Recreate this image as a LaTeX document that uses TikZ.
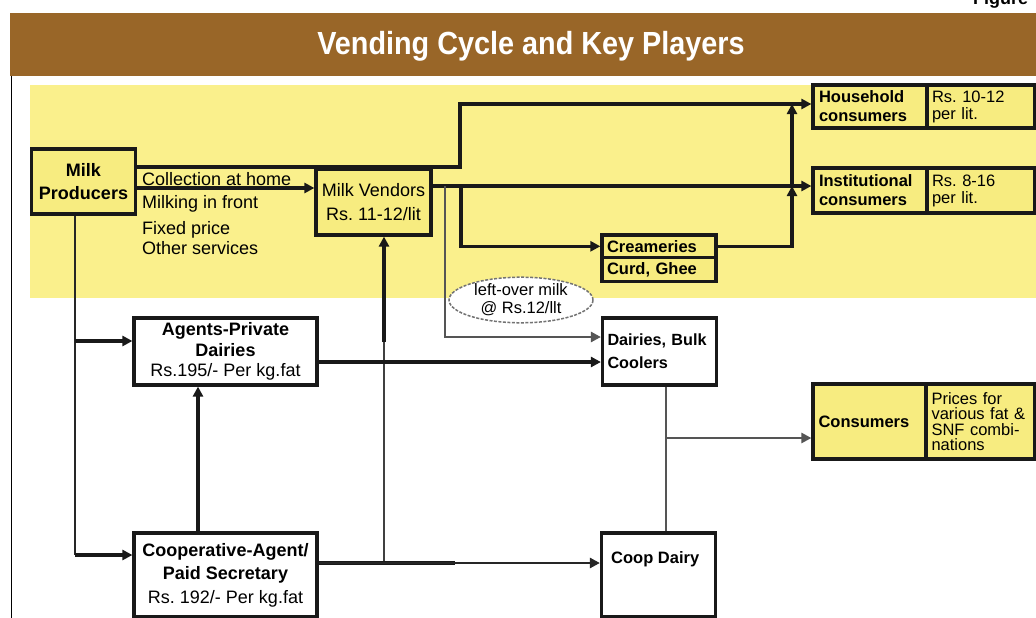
\documentclass[tikz,border=0pt]{standalone}
\usepackage{fontspec}
\setmainfont{Liberation Sans}
\usetikzlibrary{arrows.meta,shapes.geometric}
\definecolor{titlebrown}{HTML}{996628}
\definecolor{bandyellow}{HTML}{FAF08C}
\definecolor{boxyellow}{HTML}{F7EC80}
\definecolor{lineg}{HTML}{555555}
\newcommand{\fL}{\fontsize{18}{23}\selectfont}
\newcommand{\fR}{\fontsize{16.5}{19}\selectfont}
\frenchspacing
\tikzset{
  boxn/.style={draw=black!90, line width=3.2pt, inner sep=0pt},
  ybox/.style={boxn, fill=boxyellow},
  wbox/.style={boxn, fill=white},
  conn/.style={line width=3.2pt, draw=black!90},
  tipend/.style={-{Triangle[length=10pt,width=10pt]}},
  arr/.style={conn, tipend},
  thinl/.style={line width=2.6pt, draw=lineg},
  thinarr/.style={thinl, tipend},
}
\begin{document}
\begin{tikzpicture}[x=1pt,y=-1pt]
\useasboundingbox (0,0) rectangle (1036,618);
% background
\fill[white] (0,0) rectangle (1036,618);
\fill[bandyellow] (30,85) rectangle (1036,298);
\fill[titlebrown] (10,13) rectangle (1036,76);
\draw[line width=1pt] (11,76) -- (11,618);
\node[font=\fontsize{32}{36}\selectfont\bfseries, text=white, anchor=base] (title) at (531,55) {\scalebox{0.9}[1]{Vending Cycle and Key Players}};
\node[font=\fL\bfseries, anchor=base west, inner sep=0pt] (fig) at (973,5) {Figure};

% nodes
\node[ybox, minimum width=104pt, minimum height=65pt, font=\fL\bfseries, align=center] (prod) at (83.5,181.5) {Milk\\Producers};
\node[ybox, minimum width=115pt, minimum height=66pt, font=\fontsize{18}{23.5}\selectfont, align=center] (vend) at (373.5,202) {Milk Vendors\\Rs. 11-12/lit};
\node[font=\fL, anchor=base west, inner sep=0pt, align=left] (lab1) at (142,185) {Collection at home};
\node[font=\fL, anchor=base west, inner sep=0pt] (lab2) at (142,208) {Milking in front};
\node[font=\fL, anchor=base west, inner sep=0pt] (lab3) at (142,234) {Fixed price};
\node[font=\fL, anchor=base west, inner sep=0pt] (lab4) at (142,254) {Other services};

\node[ybox, minimum width=114pt, minimum height=43pt, font=\fR\bfseries, text width=102pt, align=left] (house) at (870,106.5) {Household\\consumers};
\node[ybox, minimum width=108pt, minimum height=43pt, font=\fontsize{16.5}{17}\selectfont, text width=98pt, align=left] (houseP) at (981,106.5) {Rs. 10-12\\per lit.};
\node[ybox, minimum width=114pt, minimum height=45pt, font=\fR\bfseries, text width=102pt, align=left] (inst) at (870,190.5) {Institutional\\consumers};
\node[ybox, minimum width=108pt, minimum height=45pt, font=\fontsize{16.5}{17}\selectfont, text width=98pt, align=left] (instP) at (981,190.5) {Rs. 8-16\\per lit.};

\node[ybox, minimum width=114pt, minimum height=22.5pt, font=\fR\bfseries, text width=104pt, align=left] (cream) at (659,246.3) {Creameries};
\node[ybox, minimum width=114pt, minimum height=24pt, font=\fR\bfseries, text width=104pt, align=left] (curd) at (659,269.5) {Curd, Ghee};

\node[ellipse, draw=black!55, dash pattern=on 3pt off 1.5pt, line width=1.5pt, fill=white, minimum width=144pt, minimum height=44pt, inner sep=0pt, font=\fontsize{16.5}{18}\selectfont, align=center] (left) at (521,300) {left-over milk\\@ Rs.12/llt};

\node[wbox, minimum width=114pt, minimum height=67pt, font=\fontsize{16.2}{23}\selectfont\bfseries, text width=104pt, align=left] (dbulk) at (659.5,351.5) {Dairies, Bulk\\Coolers};
\node[wbox, minimum width=183pt, minimum height=67pt, font=\fontsize{18}{20.5}\selectfont, align=center] (agents) at (225.5,351.5) {\textbf{Agents-Private}\\\textbf{Dairies}\\Rs.195/- Per kg.fat};
\node[wbox, minimum width=183pt, minimum height=84pt, font=\fontsize{18}{23.5}\selectfont, align=center] (coop) at (225.5,575) {\textbf{Cooperative-Agent/}\\\textbf{Paid Secretary}\\Rs. 192/- Per kg.fat};
\node[wbox, minimum width=114pt, minimum height=84pt] (coopd) at (658.5,575) {};
\node[font=\fR\bfseries, anchor=base west, inner sep=0pt] (coopdtxt) at (611,563) {Coop Dairy};

\node[ybox, minimum width=113pt, minimum height=75pt, font=\fR\bfseries, text width=102pt, align=left] (cons) at (869.5,421.5) {Consumers};
\node[ybox, minimum width=108pt, minimum height=75pt, font=\fontsize{16.5}{15.3}\selectfont, text width=98pt, align=left] (consP) at (980.5,421.5) {Prices for\\various fat \&\\SNF combi-\\nations};

% coordinates
\coordinate (p1) at (135.7,167);
\coordinate (b1) at (460,167);
\coordinate (b2) at (460,104);
\coordinate (r188) at (0,188);
\coordinate (r186) at (0,186);
\coordinate (v3) at (461,186);
\coordinate (v5) at (445,186);
\coordinate (r337) at (0,337);
\coordinate (k1) at (792,246.3);
\coordinate (m1) at (384,563);
\coordinate (m2) at (384,342);
\coordinate (q0) at (75,0);
\coordinate (r341) at (0,341);
\coordinate (r555) at (0,555);
\coordinate (s198) at (198,0);
\coordinate (r362) at (0,362);
\coordinate (r563) at (0,563);
\coordinate (t455) at (455,563);
\coordinate (u666) at (666,0);
\coordinate (r438) at (0,438);

% connectors
\draw[arr] (p1) -- (b1) -- (b2) -- (house.west |- b2);
\draw[arr] (prod.east |- r188) -- (vend.west |- r188);
\draw[arr] (vend.east |- r186) -- (inst.west |- r186);
\draw[arr] (v3) |- (cream.west);
\draw[thinarr] (v5) |- (dbulk.west |- r337);
\draw[arr] (cream.east) -- (k1) -- (k1 |- r186);
\draw[arr] (k1 |- r186) -- (k1 |- b2);
\draw[line width=2.8pt, draw=black!75] (m1) -- (m2);
\draw[arr] (m2) -- (m1 |- vend.south);
\draw[line width=2.8pt, draw=black!85] (q0 |- prod.south) -- (q0 |- r555);
\draw[arr] (q0 |- r341) -- (agents.west |- r341);
\draw[arr] (q0 |- r555) -- (coop.west |- r555);
\draw[arr] (coop.north -| s198) -- (agents.south -| s198);
\draw[arr] (agents.east |- r362) -- (dbulk.west |- r362);
\draw[conn] (coop.east |- r563) -- (t455);
\draw[line width=2.8pt, draw=black!85, tipend] (coop.east |- r563) -- (coopd.west |- r563);
\draw[thinl] (dbulk.south -| u666) -- (coopd.north -| u666);
\draw[thinarr] (u666 |- r438) -- (cons.west |- r438);
\end{tikzpicture}
\end{document}
